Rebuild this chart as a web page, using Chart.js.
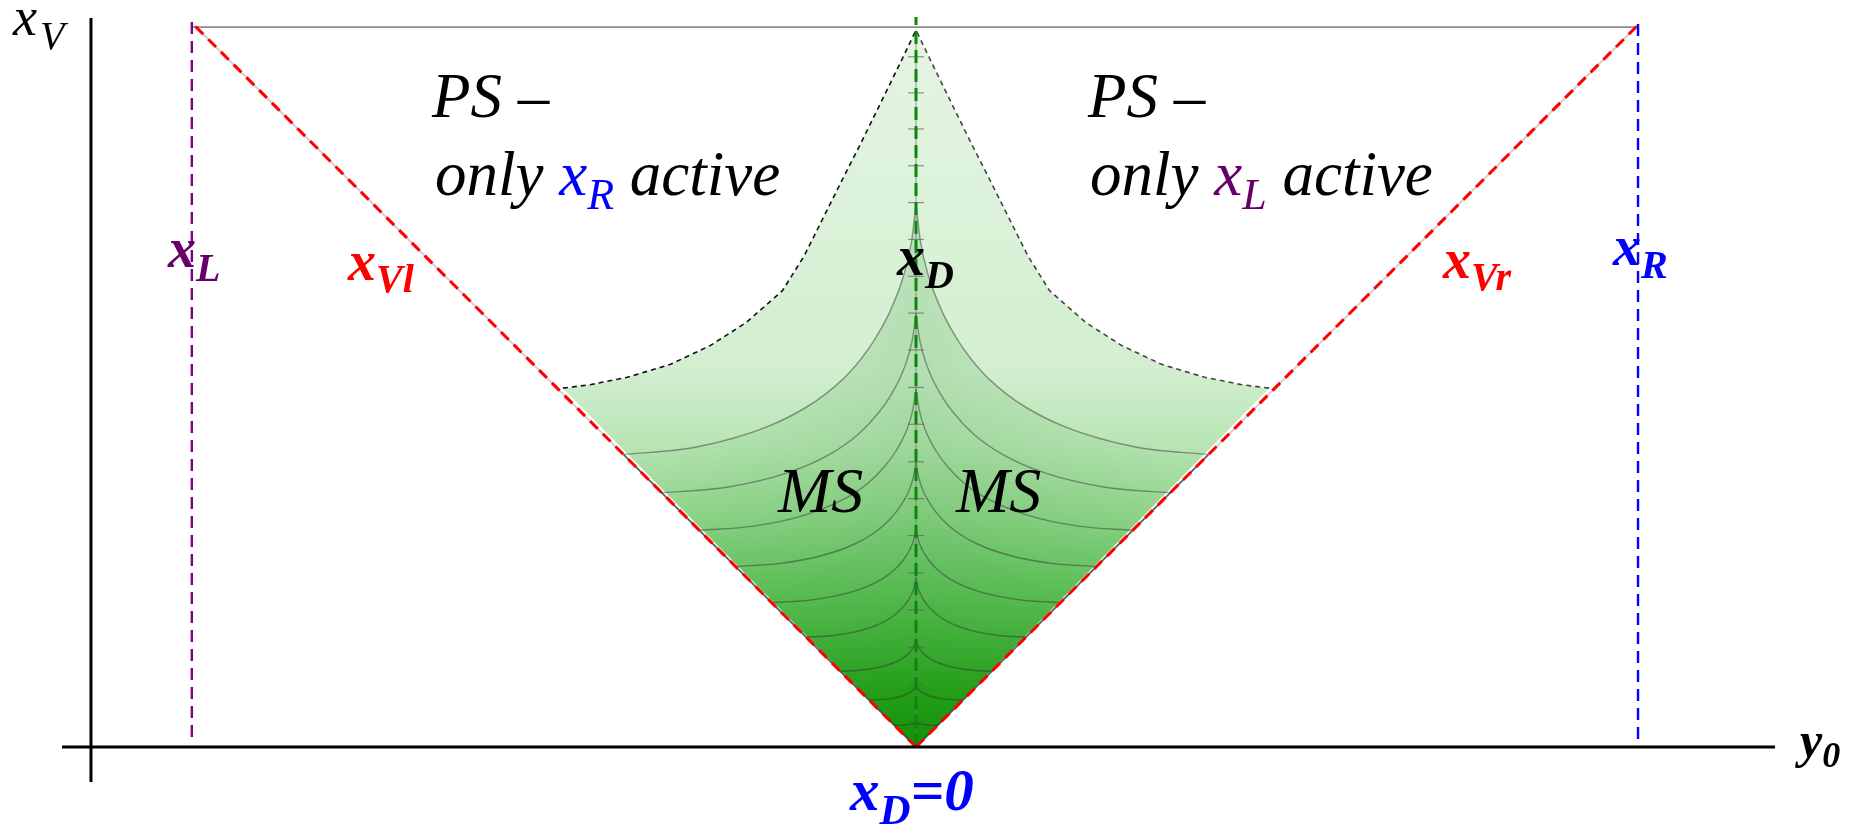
<!DOCTYPE html>
<html>
<head>
<meta charset="utf-8">
<script src="https://cdn.jsdelivr.net/npm/chart.js@4.4.1/dist/chart.umd.min.js"></script>
<style>
  html, body { margin: 0; padding: 0; background: #ffffff; overflow: hidden; }
  #wrap { width: 1862px; height: 825px; }
</style>
</head>
<body>
<div id="wrap"><canvas id="c" width="1862" height="825"></canvas></div>
<script>
// ---- phase-diagram values (y0 horizontal, xV vertical) ----

// outer markers on the y0 axis
const markerLeftY0 = -1.003;   // x_L
const markerRightY0 = 1.0;     // x_R
const markerTop = 1.011;
const ceilingXV = 0.997;       // upper limit of x_V
const msCuspHeight = 0.993;

// dashed upper boundary of the MS region (left and right branches)
const boundLeftX  = [-0.489, -0.45, -0.40, -0.34, -0.285, -0.235, -0.185, -0.155, -0.13, -0.105, -0.077, -0.05, -0.023, 0];
const boundLeftY  = [0.497, 0.502, 0.512, 0.530, 0.556, 0.588, 0.632, 0.680, 0.730, 0.780, 0.835, 0.890, 0.945, 0.993];
const boundRightX = [0.489, 0.45, 0.40, 0.34, 0.285, 0.235, 0.185, 0.155, 0.13, 0.105, 0.077, 0.05, 0.023, 0];
const boundRightY = [0.497, 0.502, 0.512, 0.530, 0.556, 0.588, 0.632, 0.680, 0.730, 0.780, 0.835, 0.890, 0.945, 0.993];

// level curves: height where each meets the V edge, and height of its cusp on x_D
const levelEdge = [0.03, 0.065, 0.105, 0.152, 0.2, 0.25, 0.3, 0.352, 0.405];
const levelCusp = [0.035, 0.087, 0.15, 0.235, 0.303, 0.395, 0.496, 0.6, 0.753];
// common shape of a level curve, from the edge (0,0) to the cusp (1,1)
const levelShapeU = [0, 0.25, 0.49, 0.66, 0.775, 0.854, 0.911, 0.957, 0.985, 1];
const levelShapeV = [0, 0.03, 0.11, 0.215, 0.33, 0.45, 0.57, 0.71, 0.85, 1];

// short marks along the x_D line
const xdMarks = [0.035, 0.086, 0.138, 0.19, 0.241, 0.293, 0.344, 0.395, 0.447, 0.498,
                 0.55, 0.601, 0.652, 0.703, 0.754, 0.805, 0.856, 0.906, 0.956];

// ---- view window ----
const X_MIN = -1.2687, X_MAX = 1.3102;
const Y_MIN = -0.108, Y_MAX = 1.0346;
const AXIS_Y0_AT = -1.1427;           // where the x_V axis stands
const AXIS_Y0_SPAN = [-1.1828, 1.1898];
const AXIS_XV_SPAN = [-0.0485, 1.0097];

// ---- build point lists ----
const pts = (xs, ys) => xs.map((x, i) => ({ x, y: ys[i] }));

const msPolygon = [
  { x: 0, y: 0 },
  ...pts(boundLeftX, boundLeftY),
  ...pts(boundRightX, boundRightY).reverse(),
  { x: 0, y: 0 }
];

function levelCurve(k, side) {
  const a = levelEdge[k], b = levelCusp[k];
  return levelShapeU.map((u, i) => ({
    x: side * (a - u * a),
    y: a + levelShapeV[i] * (b - a)
  }));
}

// inner part of MS bounded by the highest level curve
const topK = levelEdge.length - 1;
const innerPolygon = [
  { x: 0, y: 0 },
  ...levelCurve(topK, -1),
  ...levelCurve(topK, 1).reverse(),
  { x: 0, y: 0 }
];

// ---- styles ----
const shadeStops = [
  [0.00, 'rgb(16,146,4)'],
  [0.08, 'rgb(40,162,28)'],
  [0.20, 'rgb(90,190,84)'],
  [0.32, 'rgb(145,213,140)'],
  [0.42, 'rgb(185,229,181)'],
  [0.52, 'rgb(210,238,207)'],
  [0.75, 'rgb(220,242,218)'],
  [1.00, 'rgb(228,245,226)']
];

function verticalShade(c) {
  const chart = c.chart;
  if (!chart.chartArea) return 'rgb(150,210,150)';
  const y0 = chart.scales.y.getPixelForValue(0);
  const y1 = chart.scales.y.getPixelForValue(1);
  const g = chart.ctx.createLinearGradient(0, y0, 0, y1);
  shadeStops.forEach(([t, col]) => g.addColorStop(t, col));
  return g;
}

function centreShade(c) {
  const chart = c.chart;
  if (!chart.chartArea) return 'rgba(0,0,0,0)';
  const xa = chart.scales.x.getPixelForValue(-0.42);
  const xb = chart.scales.x.getPixelForValue(0.42);
  const g = chart.ctx.createLinearGradient(xa, 0, xb, 0);
  g.addColorStop(0, 'rgba(20,140,20,0)');
  g.addColorStop(0.5, 'rgba(20,140,20,0.16)');
  g.addColorStop(1, 'rgba(20,140,20,0)');
  return g;
}

const line = (data, color, width, dash, order, extra) => Object.assign({
  data, showLine: true, borderColor: color, borderWidth: width,
  borderDash: dash || [], pointRadius: 0, fill: false, order, tension: 0
}, extra || {});

const datasets = [];

// MS region
datasets.push(line(msPolygon, 'rgba(0,0,0,0)', 0, null, 100,
  { fill: 'shape', backgroundColor: verticalShade }));
datasets.push(line(innerPolygon, 'rgba(0,0,0,0)', 0, null, 99,
  { fill: 'shape', backgroundColor: centreShade }));

// level curves
for (let k = 0; k < levelEdge.length; k++) {
  [-1, 1].forEach(side => {
    datasets.push(line(levelCurve(k, side), 'rgba(45,45,45,0.45)', 1.4, null, 90,
      { cubicInterpolationMode: 'monotone' }));
  });
}

// edges of the V under the dashes
const topLevel = levelEdge[topK];
datasets.push(line([{ x: -topLevel, y: topLevel }, { x: 0, y: 0 }, { x: topLevel, y: topLevel }],
  'rgba(30,30,30,0.75)', 1.6, null, 80));
datasets.push(line([{ x: -1, y: 1 }, { x: -topLevel, y: topLevel }], '#d0d0d0', 2, null, 80));
datasets.push(line([{ x: topLevel, y: topLevel }, { x: 1, y: 1 }], '#d0d0d0', 2, null, 80));

// dashed upper boundary of MS
datasets.push(line(pts(boundLeftX, boundLeftY), '#111111', 1.6, [5, 4], 70));
datasets.push(line(pts(boundRightX, boundRightY), '#444444', 1.6, [5, 4], 70));

// x_D line: thin grey core, marks, green dashes
datasets.push(line([{ x: 0, y: 0 }, { x: 0, y: msCuspHeight }], 'rgba(110,110,110,0.7)', 1, null, 65));
datasets.push({
  data: xdMarks.map(v => ({ x: 0, y: v })), showLine: false,
  pointStyle: 'line', pointRadius: 8, pointBorderColor: 'rgba(90,90,90,0.65)',
  pointBorderWidth: 1.2, pointBackgroundColor: 'rgba(0,0,0,0)', order: 64
});
datasets.push(line([{ x: 0, y: 0 }, { x: 0, y: markerTop }], '#0d860d', 3, [13, 6], 60));

// ceiling of x_V
datasets.push(line([{ x: markerLeftY0, y: ceilingXV }, { x: markerRightY0, y: ceilingXV }], '#8c8c8c', 1.6, null, 55));

// x_Vl and x_Vr boundaries
datasets.push(line([{ x: 0, y: 0 }, { x: -1, y: 1.0 }], '#ff0000', 3, [11, 7], 50));
datasets.push(line([{ x: 0, y: 0 }, { x: 1, y: 1.0 }], '#ff0000', 3, [11, 7], 50));

// x_L and x_R markers
datasets.push(line([{ x: markerLeftY0, y: 0.014 }, { x: markerLeftY0, y: markerTop }], '#800080', 2.4, [12, 7], 45));
datasets.push(line([{ x: markerRightY0, y: 0.011 }, { x: markerRightY0, y: markerTop }], '#0000ff', 2.4, [12, 7], 45));

// axes
datasets.push(line([{ x: AXIS_Y0_SPAN[0], y: 0 }, { x: AXIS_Y0_SPAN[1], y: 0 }], '#000000', 3, null, 10));
datasets.push(line([{ x: AXIS_Y0_AT, y: AXIS_XV_SPAN[0] }, { x: AXIS_Y0_AT, y: AXIS_XV_SPAN[1] }], '#000000', 3, null, 10));

// ---- text ----
const it = s => 'italic ' + s + 'px "Liberation Serif"';
const bi = s => 'italic bold ' + s + 'px "Liberation Serif"';
const PURPLE = '#660066';

const notes = [
  { x: -1.2507, y: 0.9861, runs: [{ t: 'x', f: it(54), c: '#000' }, { t: 'V', f: it(40), c: '#000', dy: 14, dx: 3 }] },
  { x: -0.6704, y: 0.8726, runs: [{ t: 'PS \u2013', f: it(63), c: '#000' }] },
  { x: -0.6662, y: 0.7645, runs: [{ t: 'only ', f: it(63), c: '#000' }, { t: 'x', f: it(63), c: '#0000ff' },
      { t: 'R', f: it(44), c: '#0000ff', dy: 14 }, { t: ' active', f: it(63), c: '#000' }] },
  { x: 0.2382, y: 0.8726, runs: [{ t: 'PS \u2013', f: it(63), c: '#000' }] },
  { x: 0.2410, y: 0.7645, runs: [{ t: 'only ', f: it(63), c: '#000' }, { t: 'x', f: it(63), c: PURPLE },
      { t: 'L', f: it(44), c: PURPLE, dy: 14 }, { t: ' active', f: it(63), c: '#000' }] },
  { x: -1.036, y: 0.6648, runs: [{ t: 'x', f: bi(56), c: PURPLE }, { t: 'L', f: bi(40), c: PURPLE, dy: 14 }] },
  { x: -0.7867, y: 0.6468, runs: [{ t: 'x', f: bi(56), c: '#ff0000' }, { t: 'Vl', f: bi(40), c: '#ff0000', dy: 12 }] },
  { x: -0.0263, y: 0.6537, runs: [{ t: 'x', f: bi(56), c: '#000' }, { t: 'D', f: bi(40), c: '#000', dy: 13 }] },
  { x: 0.7299, y: 0.6496, runs: [{ t: 'x', f: bi(56), c: '#ff0000' }, { t: 'Vr', f: bi(40), c: '#ff0000', dy: 12 }] },
  { x: 0.9654, y: 0.6676, runs: [{ t: 'x', f: bi(56), c: '#0000ff' }, { t: 'R', f: bi(40), c: '#0000ff', dy: 13 }] },
  { x: -0.1911, y: 0.3255, runs: [{ t: 'MS', f: it(64), c: '#000' }] },
  { x: 0.0554, y: 0.3255, runs: [{ t: 'MS', f: it(64), c: '#000' }] },
  { x: -0.0914, y: -0.0873, runs: [{ t: 'x', f: bi(59), c: '#0000ff' }, { t: 'D', f: bi(43), c: '#0000ff', dy: 14 },
      { t: '=0', f: bi(59), c: '#0000ff' }] },
  { x: 1.2244, y: -0.0139, runs: [{ t: 'y', f: bi(50), c: '#000' }, { t: '0', f: bi(36), c: '#000', dy: 10 }] }
];

const notesPlugin = {
  id: 'notes',
  afterDraw(chart) {
    const { ctx, scales } = chart;
    ctx.save();
    ctx.textBaseline = 'alphabetic';
    ctx.textAlign = 'left';
    notes.forEach(n => {
      let px = scales.x.getPixelForValue(n.x);
      const py = scales.y.getPixelForValue(n.y);
      n.runs.forEach(r => {
        ctx.font = r.f;
        ctx.fillStyle = r.c;
        px += r.dx || 0;
        ctx.fillText(r.t, px, py + (r.dy || 0));
        px += ctx.measureText(r.t).width;
      });
    });
    ctx.restore();
  }
};

new Chart(document.getElementById('c'), {
  type: 'scatter',
  data: { datasets },
  options: {
    responsive: false,
    maintainAspectRatio: false,
    devicePixelRatio: 1,
    animation: false,
    events: [],
    layout: { padding: 0, autoPadding: false },
    scales: {
      x: { type: 'linear', min: X_MIN, max: X_MAX, display: false },
      y: { type: 'linear', min: Y_MIN, max: Y_MAX, display: false }
    },
    plugins: { legend: { display: false }, tooltip: { enabled: false } }
  },
  plugins: [notesPlugin]
});
</script>
</body>
</html>
